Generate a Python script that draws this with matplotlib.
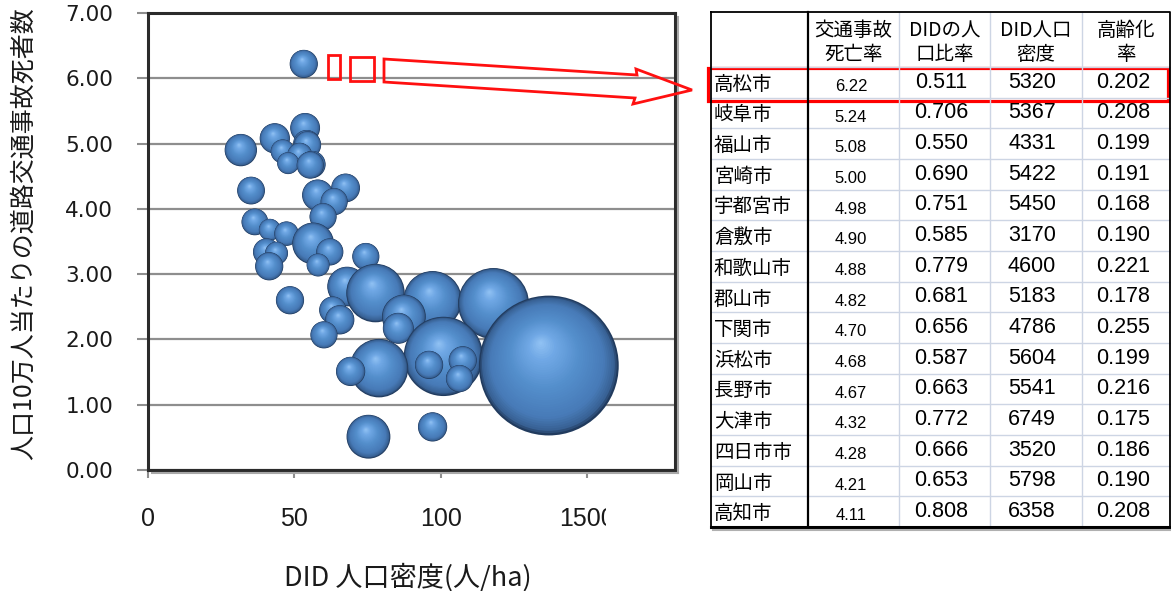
import numpy as np
import matplotlib
matplotlib.use("Agg")
import matplotlib.pyplot as plt
from matplotlib.patches import Polygon, Rectangle
from matplotlib.transforms import Bbox, TransformedBbox, blended_transform_factory

plt.rcParams["font.family"] = ["Noto Sans CJK JP", "DejaVu Sans"]

# ---- table: cities ranked by traffic fatality rate ----
cities = ["高松市", "岐阜市", "福山市", "宮崎市", "宇都宮市", "倉敷市", "和歌山市", "郡山市",
          "下関市", "浜松市", "長野市", "大津市", "四日市市", "岡山市", "高知市"]
death_rate = [6.22, 5.24, 5.08, 5.00, 4.98, 4.90, 4.88, 4.82, 4.70, 4.68, 4.67, 4.32, 4.28, 4.21, 4.11]
did_ratio = [0.511, 0.706, 0.550, 0.690, 0.751, 0.585, 0.779, 0.681, 0.656, 0.587, 0.663, 0.772,
             0.666, 0.653, 0.808]
did_density = [5320, 5367, 4331, 5422, 5450, 3170, 4600, 5183, 4786, 5604, 5541, 6749, 3520, 5798, 6358]
aging_rate = [0.202, 0.208, 0.199, 0.191, 0.168, 0.190, 0.221, 0.178, 0.255, 0.199, 0.216, 0.175,
              0.186, 0.190, 0.208]
city_bubble = [18.2, 20.4, 21.0, 16.9, 16.9, 24.0, 13.2, 14.4, 11.0, 16.9, 16.9, 19.0, 17.7, 22.5, 16.9]

# ---- remaining cities (bubbles only) ----
other_density = [36.5, 41.6, 47.3, 59.8, 56.4, 62.1, 40.5, 43.9, 41.4, 58.1, 74.4, 48.5, 68.0, 77.7,
                 97.2, 118.0, 87.4, 85.5, 63.1, 65.5, 60.1, 100.9, 78.9, 69.2, 96.0, 107.5, 106.4,
                 136.9, 75.3, 97.2]
other_rate = [3.80, 3.68, 3.62, 3.88, 3.47, 3.34, 3.34, 3.32, 3.12, 3.14, 3.27, 2.60, 2.81, 2.71,
              2.60, 2.55, 2.35, 2.17, 2.45, 2.30, 2.07, 1.74, 1.56, 1.51, 1.61, 1.68, 1.40, 1.60,
              0.51, 0.66]
other_bubble = [16.4, 11.0, 13.7, 16.9, 40.0, 16.9, 16.9, 12.1, 18.2, 12.1, 16.9, 18.2, 36.1, 78.4,
                78.4, 115.6, 44.1, 22.0, 16.9, 19.6, 16.9, 144.4, 78.4, 19.6, 18.2, 18.2, 16.9,
                448.9, 44.1, 19.6]

y_ticks = [0, 1, 2, 3, 4, 5, 6, 7]
y_tick_labels = ["0.00", "1.00", "2.00", "3.00", "4.00", "5.00", "6.00", "7.00"]
x_ticks = [0, 50, 100, 150]
x_tick_labels = ["0", "50", "100", "1500"]
header = ["交通事故\n死亡率", "DIDの人\n口比率", "DID人口\n密度", "高齢化\n率"]
x_title = "DID 人口密度(人/ha)"
y_title = "人口10万人当たりの道路交通事故死者数"

W, H, DPI = 1171, 591, 100
fig = plt.figure(figsize=(W / DPI, H / DPI), dpi=DPI)
fig.patch.set_facecolor("white")

def fx(px):
    return px / W

def fy(py):
    return 1 - py / H

# ---- bubble chart ----
ax = fig.add_axes([fx(148), fy(470), fx(675) - fx(148), fy(13) - fy(470)])
ax.set_xlim(0, 180)
ax.set_ylim(0, 7)
ax.set_axisbelow(True)
ax.yaxis.grid(True, color="#8e8e8e", lw=1.6)
ax.set_yticks(y_ticks, y_tick_labels)
ax.set_xticks(x_ticks, [""] * len(x_ticks))
ax.tick_params(axis="y", length=8, width=1.5, color="#8e8e8e", pad=17,
               labelsize=15.5, labelcolor="#1a1a1a")
ax.tick_params(axis="x", length=6, width=1.5, color="#8e8e8e")
for lab in ax.get_yticklabels():
    lab.set_family("DejaVu Sans")
for sp in ax.spines.values():
    sp.set_color("#2b2b2b")
    sp.set_linewidth(2.2)

xlab_tr = blended_transform_factory(ax.transData, ax.transAxes)
clip = TransformedBbox(Bbox([[0, 0], [fx(606), 1]]), fig.transFigure)
for v, lab in zip(x_ticks, x_tick_labels):
    t = ax.text(v, -0.107, lab, transform=xlab_tr, ha="center", va="center",
                fontsize=18, family="Liberation Sans", color="#1a1a1a")
    t.set_clip_box(clip)
    t.set_clip_on(True)

fig.text(fx(408), fy(577), x_title, ha="center", va="center", fontsize=19.5, color="#1a1a1a")
fig.text(fx(24), fy(234), y_title, ha="center", va="center", rotation=90, fontsize=18,
         color="#1a1a1a")

# soft shadow along the right and bottom of the plot frame
shadow_tr = fig.transFigure
fig.add_artist(plt.Line2D([fx(678), fx(678)], [fy(17), fy(473)], transform=shadow_tr,
                          color="#a8a8a8", lw=1.5))
fig.add_artist(plt.Line2D([fx(152), fx(678)], [fy(473), fy(473)], transform=shadow_tr,
                          color="#a8a8a8", lw=1.5))

# sphere shading: stops from rim to highlight
stops_t = [0.0, 0.05, 0.18, 0.5, 0.8, 1.0]
stops_c = np.array([[0.13, 0.23, 0.37],
                    [0.22, 0.38, 0.58],
                    [0.28, 0.48, 0.72],
                    [0.33, 0.56, 0.80],
                    [0.44, 0.66, 0.90],
                    [0.58, 0.77, 0.96]])

def shade(t):
    return np.column_stack([np.interp(t, stops_t, stops_c[:, k]) for k in range(3)])

def draw_bubble(x, y, value, z, n=40):
    r = 3.3 * np.sqrt(value)  # radius in pixels, area proportional to value
    cx, cy = ax.transData.transform((x, y))
    t = np.linspace(0, 1, n, endpoint=False)
    px = cx - 0.12 * r * t
    py = cy + 0.33 * r * t
    pts = ax.transData.inverted().transform(np.column_stack([px, py]))
    radii = r * (1 - t)
    sizes = (2 * radii * 72 / DPI) ** 2
    ax.scatter(pts[:, 0], pts[:, 1], s=sizes, c=shade(t), linewidths=0, zorder=z)

bx = [d / 100 for d in did_density] + other_density
by = death_rate + other_rate
bv = city_bubble + other_bubble
order = sorted(range(len(bx)), key=lambda i: -by[i])
for k, i in enumerate(order):
    draw_bubble(bx[i], by[i], bv[i], 3 + k * 0.01)

# ---- overlay in pixel coordinates: table and arrow ----
ov = fig.add_axes([0, 0, 1, 1], zorder=10)
ov.set_xlim(0, W)
ov.set_ylim(H, 0)
ov.axis("off")
ov.patch.set_visible(False)

col_x = [711, 808, 899, 990, 1082, 1170]
top, head_bot, bot = 12, 67, 527
n_rows = len(cities)
row_h = (bot - head_bot) / n_rows
grid_c = "#cdd5e4"
for i in range(1, n_rows):
    yy = head_bot + i * row_h
    ov.plot([col_x[0], col_x[-1]], [yy, yy], color=grid_c, lw=1.0)
ov.plot([col_x[0], col_x[-1]], [head_bot, head_bot], color=grid_c, lw=1.0)
for xx in col_x[2:-1]:
    ov.plot([xx, xx], [top, bot], color=grid_c, lw=1.0)
ov.plot([col_x[1], col_x[1]], [top, bot], color="black", lw=1.6)
ov.plot([col_x[0], col_x[-1], col_x[-1], col_x[0], col_x[0]], [top, top, bot, bot, top],
        color="black", lw=1.3)
ov.plot([col_x[0], col_x[-1]], [bot, bot], color="black", lw=2.2)
ov.plot([col_x[0] + 2, col_x[-1] + 1], [bot + 2.5, bot + 2.5], color="#b0b0b0", lw=1.5)

for j, h in enumerate(header):
    cxm = (col_x[j + 1] + col_x[j + 2]) / 2
    l1, l2 = h.split("\n")
    ov.text(cxm, 31, l1, ha="center", va="center", fontsize=14, color="black")
    ov.text(cxm, 55, l2, ha="center", va="center", fontsize=14, color="black")

for i in range(n_rows):
    yc = head_bot + (i + 0.5) * row_h
    ov.text(714, yc + 2, cities[i], ha="left", va="center", fontsize=14, color="black")
    ov.text(851, yc + 4, f"{death_rate[i]:.2f}", ha="center", va="center", fontsize=12,
            family="Liberation Sans", color="black")
    ov.text(941, yc, f"{did_ratio[i]:.3f}", ha="center", va="center", fontsize=15.5,
            family="Liberation Sans", color="black")
    ov.text(1032, yc, f"{did_density[i]}", ha="center", va="center", fontsize=15.5,
            family="Liberation Sans", color="black")
    ov.text(1123, yc, f"{aging_rate[i]:.3f}", ha="center", va="center", fontsize=15.5,
            family="Liberation Sans", color="black")

# highlight box around the first row
ov.add_patch(Rectangle((708, 68), 460, 33, fill=False, ec="red", lw=2.3))

# segmented block arrow pointing from the top bubble to the highlighted row
red = "#ff1010"
ov.add_patch(Rectangle((327.5, 55), 12.5, 24, fill=False, ec=red, lw=2.0))
ov.add_patch(Rectangle((350, 57), 24, 24, fill=False, ec=red, lw=2.0))
arrow = [(384, 59), (637, 75), (636, 69), (692, 90), (633, 104), (635, 98), (384, 82)]
ov.add_patch(Polygon(arrow, closed=True, fill=False, ec=red, lw=2.0, joinstyle="miter"))

fig.savefig("out.png", dpi=DPI, facecolor="white")
